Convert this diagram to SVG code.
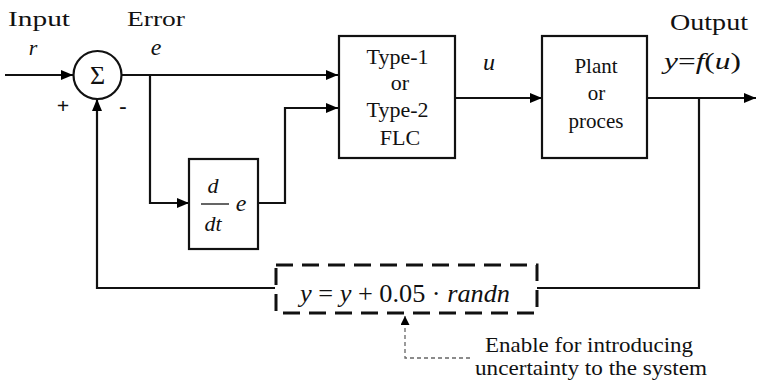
<svg xmlns="http://www.w3.org/2000/svg" width="758" height="387" viewBox="0 0 758 387" font-family="'Liberation Serif', serif">
<defs>
<marker id="arr" viewBox="0 0 12 10" refX="12" refY="5" markerWidth="12" markerHeight="10" markerUnits="userSpaceOnUse" orient="auto"><path d="M0,0 L12,5 L0,10 Z" fill="#000"/></marker>
<marker id="arrs" viewBox="0 0 10 10" refX="10" refY="5" markerWidth="9" markerHeight="9" markerUnits="userSpaceOnUse" orient="auto"><path d="M0,0 L10,5 L0,10 Z" fill="#000"/></marker>
</defs>
<style>
text{font-family:'Liberation Serif',serif;fill:#111}
.i{font-style:italic}
.n{font-style:normal}
.box{fill:#fff;stroke:#111;stroke-width:2.2}
.ln{fill:none;stroke:#111;stroke-width:2.2}
</style>
<rect width="758" height="387" fill="#fff"/>
<g id="connectors">
<path class="ln" d="M5,75 H73" marker-end="url(#arr)"/>
<path class="ln" d="M122,75 H338" marker-end="url(#arr)"/>
<path class="ln" d="M150,75 V203 H189" marker-end="url(#arr)"/>
<path class="ln" d="M258,203 H285 V108 H338" marker-end="url(#arr)"/>
<path class="ln" d="M455,98 H542" marker-end="url(#arr)"/>
<path class="ln" d="M647,98 H756" marker-end="url(#arr)"/>
<path class="ln" d="M699,98 V288 H537"/>
<path class="ln" d="M275,288 H97 V99" marker-end="url(#arr)"/>
<path fill="none" stroke="#666" stroke-width="1.3" stroke-dasharray="4,3" d="M470,358 H405 V316" marker-end="url(#arrs)"/>
</g>
<g id="sum">
<circle cx="97.5" cy="75" r="24" class="box"/>
<text x="97.5" y="84" font-size="26" text-anchor="middle">Σ</text>
</g>
<g id="flc">
<rect class="box" x="339" y="36" width="116" height="122"/>
<text x="397.5" y="64" font-size="22" text-anchor="middle">Type-1</text>
<text x="400" y="90" font-size="22" text-anchor="middle">or</text>
<text x="397.5" y="117" font-size="22" text-anchor="middle">Type-2</text>
<text x="400" y="145" font-size="22" text-anchor="middle">FLC</text>
</g>
<g id="plant">
<rect class="box" x="542" y="36" width="105" height="122"/>
<text x="596" y="73" font-size="21" text-anchor="middle">Plant</text>
<text x="596.5" y="100" font-size="21" text-anchor="middle">or</text>
<text x="596" y="128" font-size="21" text-anchor="middle">proces</text>
</g>
<g id="deriv">
<rect class="box" x="189" y="159" width="69" height="90"/>
<text class="i" x="213" y="193" font-size="22" text-anchor="middle">d</text>
<line x1="201" y1="204" x2="229" y2="204" stroke="#111" stroke-width="1.3"/>
<text class="i" x="213" y="231" font-size="22" text-anchor="middle">dt</text>
<text class="i" x="241" y="211" font-size="24" text-anchor="middle">e</text>
</g>
<g id="noise">
<rect x="276" y="265" width="261" height="48" fill="#fff" stroke="#111" stroke-width="3" stroke-dasharray="17,9"/>
<text class="i" x="300" y="302" font-size="26" textLength="210" lengthAdjust="spacingAndGlyphs">y <tspan class="n">=</tspan> y <tspan class="n">+ 0.05 ·</tspan> randn</text>
</g>
<g id="labels">
<text x="8" y="26" font-size="22" textLength="62" lengthAdjust="spacingAndGlyphs">Input</text>
<text class="i" x="33" y="55" font-size="22" text-anchor="middle">r</text>
<text x="63" y="113" font-size="22" text-anchor="middle" font-weight="bold">+</text>
<text x="123" y="113" font-size="22" text-anchor="middle" font-weight="bold">-</text>
<text x="127" y="26" font-size="22" textLength="58" lengthAdjust="spacingAndGlyphs">Error</text>
<text class="i" x="156" y="55" font-size="24" text-anchor="middle">e</text>
<text class="i" x="489" y="70" font-size="24" text-anchor="middle">u</text>
<text x="670" y="30" font-size="23" textLength="78" lengthAdjust="spacingAndGlyphs">Output</text>
<text class="i" x="664" y="69" font-size="24" textLength="77" lengthAdjust="spacingAndGlyphs">y<tspan class="n">=</tspan>f<tspan class="n">(</tspan>u<tspan class="n">)</tspan></text>
<text x="485" y="352" font-size="21" textLength="208" lengthAdjust="spacingAndGlyphs">Enable for introducing</text>
<text x="475" y="375" font-size="21" textLength="232" lengthAdjust="spacingAndGlyphs">uncertainty to the system</text>
</g>
</svg>
